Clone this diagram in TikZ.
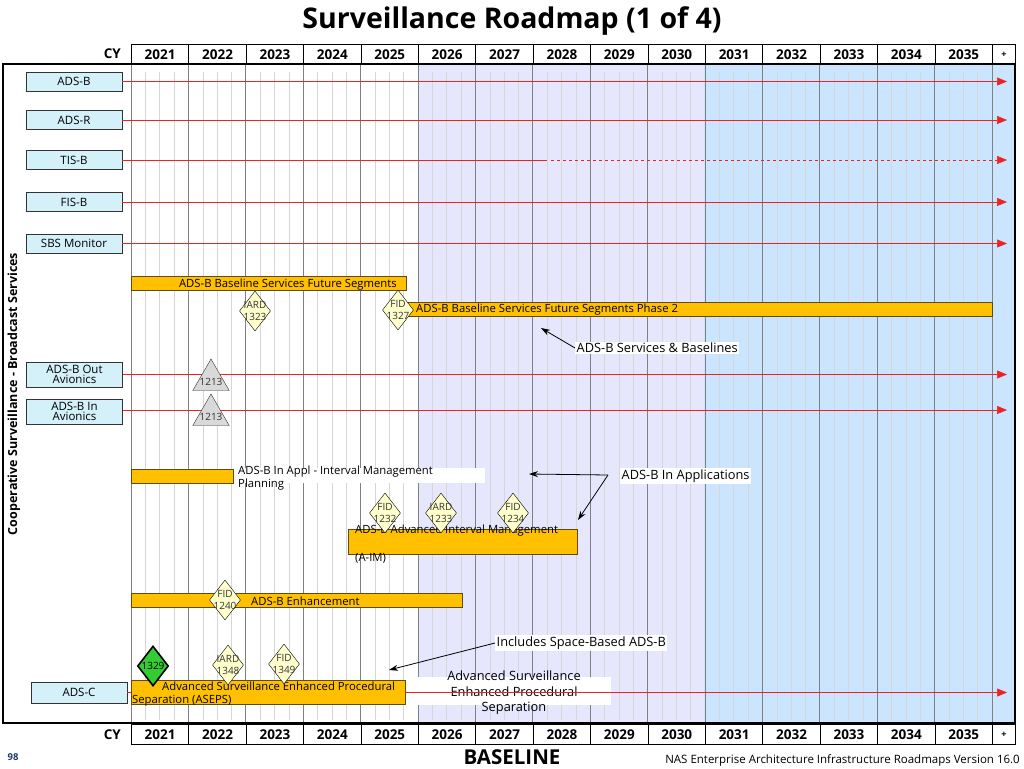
\documentclass[tikz,border=0pt]{standalone}
\usepackage{fontspec}
\setmainfont{Open Sans}
\usetikzlibrary{shapes.geometric,arrows.meta,positioning}

\definecolor{barorange}{RGB}{255,192,0}
\definecolor{barline}{RGB}{95,75,15}
\definecolor{boxblue}{RGB}{212,241,250}
\definecolor{lavender}{RGB}{230,230,252}
\definecolor{skyblue}{RGB}{204,229,255}
\definecolor{msyellow}{RGB}{255,255,204}
\definecolor{msgreen}{RGB}{51,204,51}
\definecolor{roadred}{RGB}{235,35,35}
\definecolor{pageblue}{RGB}{31,56,100}

\def\colwidth{57.4}
\def\gridleft{131}

\tikzset{
  sysbox/.style={draw=black!80, fill=boxblue, minimum width=96pt, minimum height=19pt,
    inner sep=0pt, font=\fontsize{11.5}{12}\selectfont},
  sysboxtall/.style={sysbox, minimum height=25pt, align=center, font=\fontsize{11.5}{10.5}\selectfont},
  yearcell/.style={draw=black, line width=0.9pt, minimum width=57.4pt, minimum height=20pt,
    inner sep=0pt, anchor=north west, font=\bfseries\fontsize{13.5}{14}\selectfont},
  cylabel/.style={anchor=east, inner sep=0pt, font=\bfseries\fontsize{13.5}{14}\selectfont},
  segbar/.style={draw=barline, fill=barorange, anchor=north west, inner sep=0pt},
  bartext/.style={inner sep=1pt, align=left, font=\fontsize{11.3}{13}\selectfont},
  notetext/.style={fill=white, inner sep=1.5pt, font=\fontsize{12.8}{14}\selectfont},
  roadline/.style={roadred, semithick, -{Triangle[length=10pt,width=8pt]}},
  notearrow/.style={black, thick, -{Stealth[length=9pt,width=6pt]}},
  milestone/.style={diamond, draw=black, fill=msyellow, minimum width=31pt,
    minimum height=40pt, inner sep=0pt},
  mstext/.style={align=center, text=black!80, inner sep=0pt, font=\fontsize{10}{11.5}\selectfont},
  avtriangle/.style={regular polygon, regular polygon sides=3, draw=black!80,
    fill=black!15, minimum size=42pt, inner sep=0pt},
  minorgrid/.style={black!16, line width=0.5pt},
  majorgrid/.style={black!50, line width=0.9pt}
}

\begin{document}
\begin{tikzpicture}[x=1pt, y=-1pt]
  \useasboundingbox (0,0) rectangle (1024,768);

  % title and year header
  \node [font=\bfseries\fontsize{28.5}{32}\selectfont] (title) at (512,21) {Surveillance Roadmap (1 of 4)};
  \node [cylabel] (cytop) at (121,54) {CY};
  \node [cylabel] (cybot) at (121,735) {CY};
  \foreach \yr [count=\i from 0] in {2021,...,2035}{
    \node [yearcell] (top\yr) at ({\gridleft+\i*\colwidth},44) {\yr};
    \node [yearcell] (bot\yr) at ({\gridleft+\i*\colwidth},724) {\yr};
  }
  \node [yearcell, minimum width=23pt, font=\bfseries\small] (topplus) at (992,44) {+};
  \node [yearcell, minimum width=23pt, font=\bfseries\small] (botplus) at (992,724) {+};

  % shaded periods and grid
  \fill [lavender] (418,64) rectangle (704,723);
  \fill [skyblue] (704,64) rectangle (1015,723);
  \foreach \i in {0,...,14}{
    \foreach \q in {1,2,3}
      \draw [minorgrid] ({\gridleft+\i*\colwidth+\q*\colwidth/4},72) -- ++(0,648);
  }
  \foreach \i in {0,...,15}
    \draw [majorgrid] ({\gridleft+\i*\colwidth},64) -- ++(0,659);
  \draw [line width=1.2pt] (3,64) rectangle (1015,723);

  \node [rotate=90, font=\bfseries\fontsize{12.5}{13}\selectfont] (area) at (14,394)
    {Cooperative Surveillance - Broadcast Services};

  % systems
  \node [sysbox] (adsb) at (74,81.5) {ADS-B};
  \node [sysbox] (adsr) at (74,120) {ADS-R};
  \node [sysbox] (tisb) at (74,160) {TIS-B};
  \node [sysbox] (fisb) at (74,202) {FIS-B};
  \node [sysbox] (sbs) at (74,243.5) {SBS Monitor};
  \node [sysboxtall] (adsbout) at (74.5,374.5) {ADS-B Out\\Avionics};
  \node [sysboxtall] (adsbin) at (74.5,411.5) {ADS-B In\\Avionics};
  \node [sysbox, minimum height=21pt] (adsc) at (79,692.5) {ADS-C};

  \coordinate (adsb-end) at (1007,81.5);
  \coordinate (adsr-end) at (1007,120);
  \coordinate (tisb-split) at (547,160);
  \coordinate (tisb-dash) at (551,160);
  \coordinate (tisb-end) at (1007,160);
  \coordinate (fisb-end) at (1007,202);
  \coordinate (sbs-end) at (1007,243.5);
  \coordinate (adsbout-end) at (1007,374.5);
  \coordinate (adsbin-end) at (1007,410);
  \coordinate (adsc-end) at (1007,692.5);

  \draw [roadline] (adsb.east) -- (adsb-end);
  \draw [roadline] (adsr.east) -- (adsr-end);
  \draw [roadred, semithick] (tisb.east) -- (tisb-split);
  \draw [roadline, dashed] (tisb-dash) -- (tisb-end);
  \draw [roadline] (fisb.east) -- (fisb-end);
  \draw [roadline] (sbs.east) -- (sbs-end);
  \draw [roadline] (adsbout.east) -- (adsbout-end);
  \draw [roadline] (adsbin.east |- adsbin-end) -- (adsbin-end);

  % ADS-B baseline segments
  \node [segbar, minimum width=275pt, minimum height=14pt] (segone) at (131,276) {};
  \node [bartext, anchor=east] (segonetext) at (398,284.5) {ADS-B Baseline Services Future Segments};
  \node [segbar, minimum width=595pt, minimum height=14pt] (segtwo) at (397,302) {};
  \node [bartext, anchor=west] (segtwotext) at (415,310) {ADS-B Baseline Services Future Segments Phase 2};
  \node [milestone, label={[mstext]center:{IARD\\1323}}] (iard1323) at (255,311) {};
  \node [milestone, label={[mstext]center:{FID\\1327}}] (fid1327) at (398,310) {};

  \node [notetext, anchor=west] (basenote) at (575,348) {ADS-B Services \& Baselines};
  \coordinate (basetip) at (541,328);
  \draw [notearrow] (basenote.west) -- (basetip);

  % avionics
  \node [avtriangle, label={[mstext, yshift=-2pt]center:1213}] (outtri) at (211,380) {};
  \node [avtriangle, label={[mstext, yshift=-2pt]center:1213}] (intri) at (211,415) {};

  % ADS-B In applications
  \node [segbar, minimum width=102pt, minimum height=14pt] (segplan) at (131,469) {};
  \fill [white] (237,468) rectangle (485,483);
  \node [bartext, anchor=north west] (plantext) at (237,464.5)
    {ADS-B In Appl - Interval Management\\Planning};
  \node [segbar, minimum width=229pt, minimum height=25pt] (segaim) at (348,529) {};
  \node [bartext, anchor=north west] (aimtext) at (354,523.5)
    {ADS-B Advanced Interval Management\\[15pt](A-IM)};
  \node [milestone, label={[mstext]center:{FID\\1232}}] (fid1232) at (385,513) {};
  \node [milestone, label={[mstext]center:{IARD\\1233}}] (iard1233) at (441,513) {};
  \node [milestone, label={[mstext]center:{FID\\1234}}] (fid1234) at (513,513) {};

  \node [notetext, anchor=west] (innote) at (620,476) {ADS-B In Applications};
  \coordinate (infork) at (608,475);
  \coordinate (planTip) at (529,474);
  \coordinate (aimTip) at (578,520);
  \draw [notearrow] (infork) -- (planTip);
  \draw [notearrow] (infork) -- (aimTip);

  % enhancement
  \node [segbar, minimum width=331pt, minimum height=14pt] (segenh) at (131,593) {};
  \node [bartext, anchor=west] (enhtext) at (250,601) {ADS-B Enhancement};
  \node [milestone, label={[mstext]center:{FID\\1240}}] (fid1240) at (225,600) {};

  % ADS-C / ASEPS
  \fill [white] (405,677) rectangle (611,705);
  \node [align=center, inner sep=0pt, font=\fontsize{12.8}{15.5}\selectfont] (asepsnote) at (514,693)
    {Advanced Surveillance\\Enhanced Procedural\\Separation};
  \draw [roadline] (adsc.east) -- (adsc-end);
  \node [segbar, minimum width=274pt, minimum height=24pt] (segaseps) at (131,680) {};
  \node [bartext, anchor=north west] (asepstext) at (131,681)
    {\hspace*{30pt}Advanced Surveillance Enhanced Procedural\\Separation (ASEPS)};
  \node [milestone, fill=msgreen, line width=1.6pt, label={[mstext, text=black]center:1329}] (ms1329) at (153,666) {};
  \node [milestone, label={[mstext]center:{IARD\\1348}}] (iard1348) at (228,665) {};
  \node [milestone, label={[mstext]center:{FID\\1349}}] (fid1349) at (284,664) {};

  \node [notetext, anchor=west] (spacenote) at (495,643) {Includes Space-Based ADS-B};
  \coordinate (spacetip) at (389,670);
  \draw [notearrow] (spacenote.west) -- (spacetip);

  % footer
  \node [text=pageblue, font=\bfseries\fontsize{9.5}{10}\selectfont] (pagenum) at (13,757) {98};
  \node [font=\bfseries\fontsize{20.5}{22}\selectfont] (baseline) at (512,757) {BASELINE};
  \node [anchor=east, inner sep=0pt, font=\fontsize{11.5}{12}\selectfont] (version) at (1020,760)
    {NAS Enterprise Architecture Infrastructure Roadmaps Version 16.0};

\end{tikzpicture}
\end{document}
